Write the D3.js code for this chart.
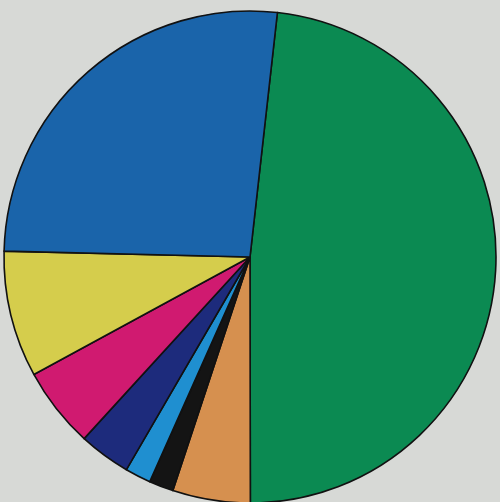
<!DOCTYPE html>
<html>
<head>
<meta charset="utf-8">
<script src="https://cdn.jsdelivr.net/npm/d3@7"></script>
<style>
  html, body { margin: 0; padding: 0; background: #d7d9d6; }
  svg { display: block; }
</style>
</head>
<body>
<svg id="chart" width="500" height="502"></svg>
<script>
// Slice shares (percent), in clockwise order starting just right of twelve o'clock
const categories = ["A", "B", "C", "D", "E", "F", "G", "H"];
const values = [48.2, 5.1, 1.6, 1.7, 3.4, 5.3, 8.3, 26.4];
const colors = ["#0b8a52", "#d6904f", "#141414", "#1f8fd0", "#1d2b7c", "#d01a70", "#d5cd4c", "#1a64aa"];

const svg = d3.select("#chart");
const cx = 250, cy = 257, radius = 246;
const startDeg = 6.4;

const pie = d3.pie()
  .sort(null)
  .value(d => d.value)
  .startAngle(startDeg * Math.PI / 180)
  .endAngle((startDeg + 360) * Math.PI / 180);

const arc = d3.arc().innerRadius(0).outerRadius(radius);

const data = categories.map((c, i) => ({ name: c, value: values[i], color: colors[i] }));

svg.append("g")
  .attr("transform", `translate(${cx},${cy})`)
  .selectAll("path")
  .data(pie(data))
  .join("path")
  .attr("d", arc)
  .attr("fill", d => d.data.color)
  .attr("stroke", "#111")
  .attr("stroke-width", 1.6)
  .attr("stroke-linejoin", "round");
</script>
</body>
</html>
